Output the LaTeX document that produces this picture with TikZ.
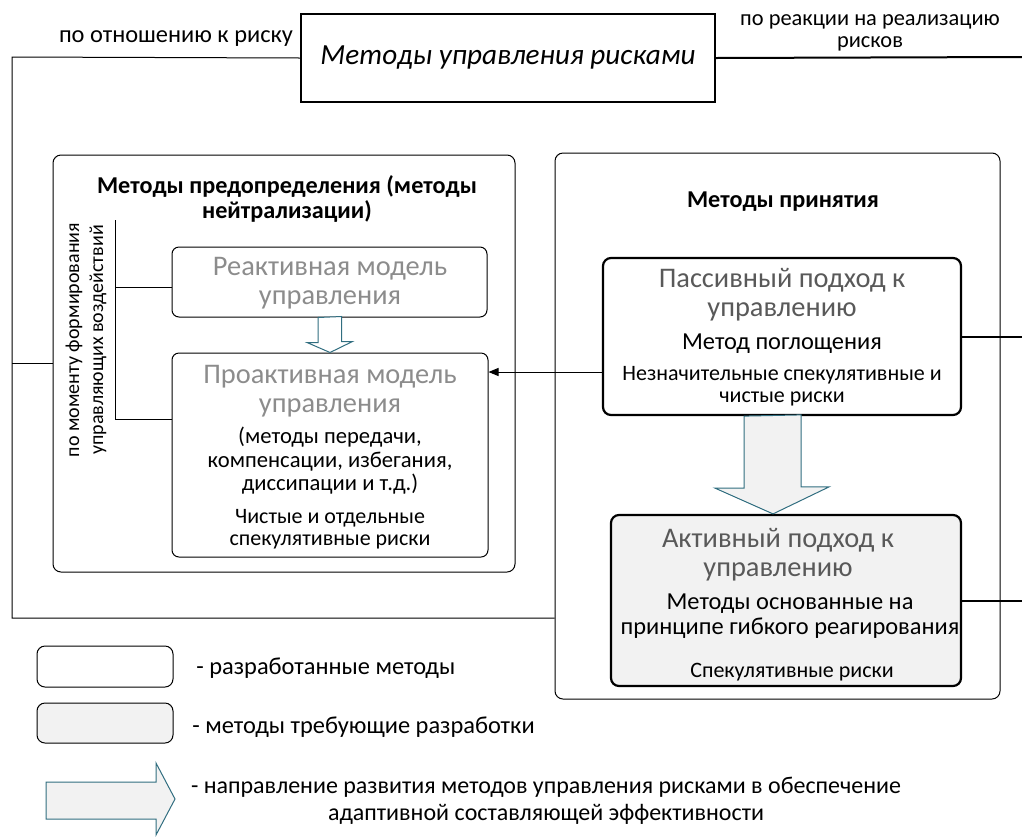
\documentclass[tikz,border=0pt]{standalone}
\usepackage{fontspec}
\setmainfont{Carlito}
\usetikzlibrary{positioning, arrows.meta, calc}
\definecolor{arrowteal}{RGB}{49,110,128}
\definecolor{fillgray}{RGB}{242,242,242}
\definecolor{paletext}{RGB}{140,140,140}
\definecolor{darktext}{RGB}{89,89,89}
\newcommand{\lblfont}{\fontsize{12.2}{12.2}\selectfont}
\newcommand{\ttlfont}{\fontsize{12.1}{12.5}\selectfont\bfseries}
\newcommand{\headfont}{\fontsize{14.2}{14.5}\selectfont}
\newcommand{\bodyfont}{\fontsize{11.3}{11.75}\selectfont}
\newcommand{\methodfont}{\fontsize{12.2}{12.5}\selectfont}
\newcommand{\smallfont}{\fontsize{11}{11}\selectfont}
\tikzset{
    thin link/.style = {draw, line width=0.5pt},
    thick link/.style = {draw, line width=1pt},
    group box/.style = {draw, line width=0.5pt, rounded corners=4pt, inner sep=0pt},
    model box/.style = {draw, line width=0.5pt, rounded corners=3.5pt, inner sep=0pt},
    method box/.style = {draw, line width=1.1pt, rounded corners=4pt, inner sep=0pt},
    block arrow/.style = {draw=arrowteal, line width=0.5pt},
    txt/.style = {inner sep=0pt, align=center},
}
\begin{document}
\begin{tikzpicture}[x=0.5pt, y=-0.5pt]
    \useasboundingbox (0,0) rectangle (1022,836);
    % root
    \node[draw, line width=1.1pt, minimum width=207pt, minimum height=44pt, inner sep=0pt] (root) at (508, 58) {\fontsize{14.6}{15}\selectfont\itshape Методы управления рисками};
    \node[txt, font=\lblfont] (byrisk) at (176, 39) {по отношению к риску};
    \node[txt, font=\fontsize{11.2}{11.2}\selectfont] (byreact) at (870, 33) {по реакции на реализацию\\рисков};

    % groups
    \node[group box, minimum width=231pt, minimum height=208.5pt] (leftgrp) at (284, 363.5) {};
    \node[group box, minimum width=222.5pt, minimum height=273pt] (rightgrp) at (777.5, 426) {};
    \node[txt, font=\ttlfont] (lefttitle) at (287, 199) {Методы предопределения (методы\\нейтрализации)};
    \node[txt, font=\ttlfont] (righttitle) at (783, 202) {Методы принятия};

    % left group
    \node[model box, minimum width=157.5pt, minimum height=35pt] (reactive) at (329.5, 282) {};
    \node[model box, minimum width=158pt, minimum height=102pt] (proactive) at (330, 455) {};
    \node[txt, font=\headfont, text=paletext] (reacttxt) at (330, 283) {Реактивная модель\\управления};
    \node[txt, font=\headfont, text=paletext] (proacttxt) at (330, 391) {Проактивная модель\\управления};
    \node[txt, font=\bodyfont] (proactlist) at (330, 461) {(методы передачи,\\компенсации, избегания,\\диссипации и т.д.)};
    \node[txt, font=\smallfont] (proactrisk) at (330, 529) {Чистые и отдельные\\спекулятивные риски};
    \node[txt, rotate=90, font=\fontsize{10}{12}\selectfont] (moment) at (86, 340) {по моменту формирования\\управляющих воздействий};

    % right group
    \node[method box, minimum width=179pt, minimum height=78.5pt] (passive) at (782, 336.5) {};
    \node[method box, fill=fillgray, minimum width=175pt, minimum height=85.5pt] (active) at (786, 600.5) {};
    \node[txt, font=\headfont, text=darktext] (passtxt) at (782, 295) {Пассивный подход к\\управлению};
    \node[txt, font=\methodfont] (absorb) at (782, 344) {Метод поглощения};
    \node[txt, font=\smallfont] (passrisk) at (782, 386) {Незначительные спекулятивные и\\чистые риски};
    \node[txt, font=\headfont, text=darktext] (acttxt) at (778, 555) {Активный подход к\\управлению};
    \node[txt, font=\methodfont] (flexible) at (790, 616) {Методы основанные на\\принципе гибкого реагирования};
    \node[txt, font=\smallfont] (actrisk) at (792, 672) {Спекулятивные риски};

    % connectors
    \coordinate (topleft) at (12, 57);
    \coordinate (botleft) at (12, 618);
    \coordinate (edge) at (1022, 57);
    \draw[thin link] (root.west) -- (topleft) -- (botleft) -- (botleft -| rightgrp.west);
    \draw[thin link] (topleft |- leftgrp.west) -- (leftgrp.west);
    \draw[thick link] (root.east) -- (edge);
    \draw[thick link] (passive.east) -- (passive.east -| edge);
    \draw[thick link] (active.east) -- (active.east -| edge);
    \coordinate (brtop) at (115, 220);
    \coordinate (brmid) at (115, 287);
    \coordinate (brbot) at (115, 419);
    \draw[thin link] (brtop) -- (brbot) -- (brbot -| proactive.west);
    \draw[thin link] (brmid) -- (brmid -| reactive.west);
    \coordinate (arrowy) at (0, 372);
    \draw[thin link, -{Triangle[length=5pt, width=4pt]}] (passive.west |- arrowy) -- (proactive.east |- arrowy);

    % block arrows
    \draw[block arrow, fill=white] (reactive.south) ++(-11.5,0) -- ++(0,25) -- ++(-11,0) -- (proactive.north) -- ++(22.5,-11) -- ++(-11,0) -- ++(0,-25) -- cycle;
    \draw[block arrow, fill=fillgray] (passive.south) ++(-38,0) -- ++(0,72) -- ++(-29,0) -- ($(active.north)+(-13,0)$) -- ++(56,-27) -- ++(-28,0) -- ++(0,-72) -- cycle;

    % legend
    \node[group box, minimum width=68pt, minimum height=20.5pt] (keydone) at (105, 666.5) {};
    \node[group box, fill=fillgray, minimum width=68pt, minimum height=20pt] (keytodo) at (105, 723) {};
    \node[txt, anchor=west, font=\lblfont] (keydonetxt) at (196, 668) {- разработанные методы};
    \node[txt, anchor=west, font=\lblfont] (keytodotxt) at (192, 727) {- методы требующие разработки};
    \draw[block arrow, fill=fillgray] (46,782) -- (156,782) -- (156,763) -- (175,799) -- (156,835) -- (156,819) -- (46,819) -- cycle;
    \node[txt, font=\fontsize{12}{13.5}\selectfont] (keyarrowtxt) at (546, 801) {- направление развития методов управления рисками в обеспечение\\адаптивной составляющей эффективности};
\end{tikzpicture}
\end{document}
